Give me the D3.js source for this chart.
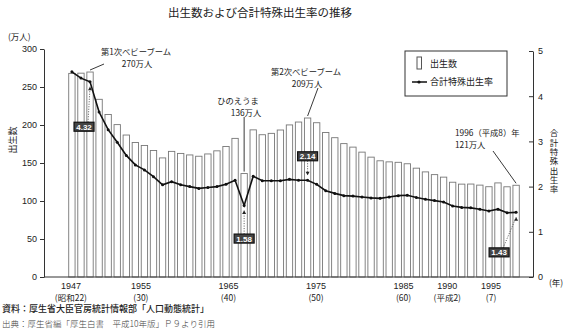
<!DOCTYPE html>
<html><head><meta charset="utf-8">
<script src="https://cdn.jsdelivr.net/npm/d3@7"></script>
<style>
body{margin:0;background:#fff;}
text{font-family:"Noto Sans CJK JP","Noto Sans",sans-serif;fill:#222;}
</style></head>
<body><svg id="c" width="569" height="335"></svg>
<script>
const years = d3.range(1947, 1997);
const births = [267.9,268.2,269.7,233.8,213.8,200.5,186.8,177.0,173.1,166.5,
  156.7,165.3,162.6,160.6,158.9,161.9,166.0,171.7,182.4,136.1,
  193.6,187.2,189.0,193.4,200.1,203.9,209.2,203.0,190.1,183.3,
  175.5,170.9,164.3,157.7,152.9,151.5,150.9,149.0,143.2,138.3,
  134.7,131.4,124.7,122.2,122.3,120.9,118.8,123.8,118.7,120.7];
const tfr = [4.54,4.40,4.32,3.65,3.26,2.98,2.69,2.48,2.37,2.22,
  2.04,2.11,2.04,2.00,1.96,1.98,2.00,2.05,2.14,1.58,
  2.23,2.13,2.13,2.13,2.16,2.14,2.14,2.05,1.91,1.85,
  1.80,1.79,1.77,1.75,1.74,1.77,1.80,1.81,1.76,1.72,
  1.69,1.66,1.57,1.54,1.53,1.50,1.46,1.50,1.42,1.43];
const leftTicks = [0,50,100,150,200,250,300];
const rightTicks = [0,1,2,3,4,5];
const xLabelYears = [1947,1955,1965,1975,1985,1990,1995];
const xLabelSub = ["(昭和22)","(30)","(40)","(50)","(60)","(平成2)","(7)"];
const rateLabels = [{year:1949, text:"4.32"},{year:1966,text:"1.58"},{year:1973,text:"2.14"},{year:1996,text:"1.43"}];

const svg = d3.select("#c");
const pL = 44, pR = 533, pT = 49, pB = 277;

const x = d3.scaleBand().domain(years).range([66, 522]).padding(0.3);
const xc = y => x(y) + x.bandwidth()/2;
const yL = d3.scaleLinear().domain([0,300]).range([pB, pT]);
const yR = d3.scaleLinear().domain([0,5]).range([pB, 51]);
const xLab = d3.scaleLinear().domain([1947,1995]).range([xc(1947)-1, xc(1995)-16]);

// title
svg.append("text").attr("x",260).attr("y",17).attr("text-anchor","middle")
  .style("font-size","11.5px").text("出生数および合計特殊出生率の推移");

// bars
svg.append("g").selectAll("rect").data(years).join("rect")
  .attr("x", d=>x(d)).attr("width", x.bandwidth())
  .attr("y", (d,i)=>yL(births[i])).attr("height",(d,i)=>pB-yL(births[i]))
  .attr("fill","#fff").attr("stroke","#777").attr("stroke-width",0.9);

// axes
const gL = svg.append("g").attr("transform",`translate(${pL},0)`)
  .call(d3.axisLeft(yL).tickValues(leftTicks).tickSize(4).tickPadding(3).tickSizeOuter(0));
const gR = svg.append("g").attr("transform",`translate(${pR},0)`)
  .call(d3.axisRight(yR).tickValues(rightTicks).tickFormat(d3.format("d")).tickSize(-4).tickPadding(5).tickSizeOuter(0));
[gL,gR].forEach(g=>{
  g.selectAll("text").style("font-size","9px").style("font-family","'Liberation Sans',Arial,sans-serif").attr("fill","#222");
  g.selectAll("line,path").attr("stroke","#333");
});
svg.append("line").attr("x1",pL).attr("x2",pR).attr("y1",pB).attr("y2",pB).attr("stroke","#333");

// x labels
const gx = svg.append("g");
xLabelYears.forEach((yr,i)=>{
  gx.append("text").attr("x",xLab(yr)).attr("y",pB+12).attr("text-anchor","middle")
    .style("font-size","9px").style("font-family","'Liberation Sans',Arial,sans-serif").text(yr);
  gx.append("text").attr("x",xLab(yr)).attr("y",pB+24).attr("text-anchor","middle")
    .style("font-size","8.5px").text(xLabelSub[i]);
});
svg.append("text").attr("x",549).attr("y",pB+9).style("font-size","8.5px").text("(年)");

// axis titles
svg.append("text").attr("x",8).attr("y",40).style("font-size","8.5px").text("(万人)");
svg.append("text").attr("transform","translate(16,140) rotate(-90)").attr("text-anchor","middle")
  .style("font-size","9px").text("出生数");
svg.append("text").attr("x",554).attr("y",129).style("font-size","8.5px")
  .style("writing-mode","vertical-rl").style("letter-spacing","0.8px").text("合計特殊出生率");

// line
const line = d3.line().x((d,i)=>xc(years[i])).y(d=>yR(d));
svg.append("path").datum(tfr).attr("d",line).attr("fill","none").attr("stroke","#111").attr("stroke-width",1.6);
svg.append("g").selectAll("circle").data(tfr).join("circle")
  .attr("cx",(d,i)=>xc(years[i])).attr("cy",d=>yR(d)).attr("r",1.5).attr("fill","#111");

// rate label boxes
const boxPos = {1949:[-6,45],1966:[0,33],1973:[0,-24],1996:[-17,40]};
rateLabels.forEach(r=>{
  const i = years.indexOf(r.year);
  const px = xc(r.year), py = yR(tfr[i]);
  const [dx,dy] = boxPos[r.year];
  const bx = px+dx, by = py+dy;
  const tipY = dy>0 ? py+5 : py-5;
  const startY = dy>0 ? by-4.5 : by+4.5;
  svg.append("line").attr("x1",bx+(dx<0?4:0)).attr("y1",startY).attr("x2",px).attr("y2",tipY)
    .attr("stroke","#444").attr("stroke-width",0.9).attr("stroke-dasharray","1,1.5");
  const dir = dy>0 ? -1 : 1;
  svg.append("path").attr("d",`M${px},${tipY} l-2,${-dir*3.5} l4,0 z`).attr("fill","#222");
  svg.append("rect").attr("x",bx-10).attr("y",by-4.5).attr("width",20).attr("height",9)
    .attr("fill","#444").attr("stroke","#111").attr("stroke-width",1.2);
  svg.append("text").attr("x",bx).attr("y",by+3).attr("text-anchor","middle")
    .style("font-size","8px").style("font-weight","bold").style("font-family","'Liberation Sans',Arial,sans-serif")
    .style("fill","#fff").text(r.text);
});

// annotations
const LH = 12;
function annot(lines, tx, ty, lx1, ly1, year){
  const i = years.indexOf(year);
  lines.forEach((t,k)=>{
    svg.append("text").attr("x",tx[k]).attr("y",ty+k*LH).attr("text-anchor","middle")
      .style("font-size","8.3px").text(t);
  });
  svg.append("line").attr("x1",lx1).attr("y1",ly1).attr("x2",xc(year)).attr("y2",yL(births[i])-2)
    .attr("stroke","#222").attr("stroke-width",0.9);
}
annot(["第1次ベビーブーム","270万人"],[136,137],55,104,64,1949);
annot(["第2次ベビーブーム","209万人"],[306,307],75,318,88,1973);
annot(["ひのえうま","136万人"],[238,246],104,xc(1966),117,1966);
svg.append("text").attr("x",455).attr("y",136).style("font-size","8.3px").text("1996（平成8）年");
svg.append("text").attr("x",455).attr("y",148).style("font-size","8.3px").text("121万人");
svg.append("line").attr("x1",493).attr("y1",151).attr("x2",xc(1996)).attr("y2",yL(births[49])-2)
  .attr("stroke","#222").attr("stroke-width",0.9);

// legend
svg.append("rect").attr("x",405).attr("y",51).attr("width",102).attr("height",45)
  .attr("fill","#fff").attr("stroke","#333").attr("stroke-width",1);
svg.append("rect").attr("x",417).attr("y",57).attr("width",4.5).attr("height",12)
  .attr("fill","#fff").attr("stroke","#555");
svg.append("text").attr("x",430).attr("y",67).style("font-size","9px").text("出生数");
svg.append("line").attr("x1",412).attr("x2",427).attr("y1",82).attr("y2",82).attr("stroke","#111").attr("stroke-width",1.5);
svg.append("circle").attr("cx",419).attr("cy",82).attr("r",1.6).attr("fill","#111");
svg.append("text").attr("x",430).attr("y",85).style("font-size","9px").text("合計特殊出生率");

// footer
svg.append("text").attr("x",2).attr("y",312).style("font-size","9px").style("font-weight","500")
  .text("資料：厚生省大臣官房統計情報部「人口動態統計」");
svg.append("text").attr("x",2).attr("y",327).style("font-size","8.5px").style("font-weight","300").style("fill","#444")
  .text("出典：厚生省編「厚生白書　平成10年版」Ｐ９より引用");
</script></body></html>
